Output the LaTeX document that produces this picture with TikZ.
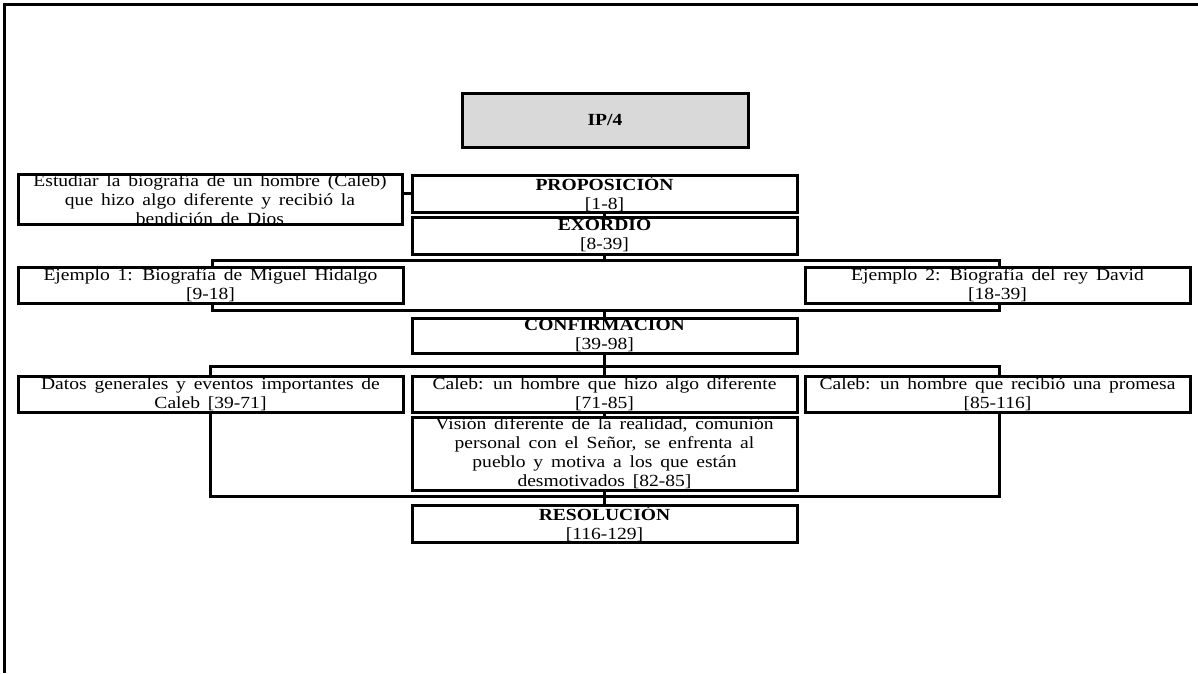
\documentclass[tikz,border=0pt]{standalone}
\usepackage{fontspec}
\setmainfont{Liberation Serif}[FakeStretch=1.15, WordSpace=1.6]
\usetikzlibrary{backgrounds}
\definecolor{boxgrey}{RGB}{217,217,217}
\tikzset{
  box/.style={draw=black, line width=3pt, fill=white, rectangle, inner sep=0pt,
    align=center, font=\fontsize{17}{19}\selectfont},
  conn/.style={draw=black, line width=3pt},
}
\newcommand{\bx}[6]{% name, x1, y1, x2, y2, text
  \node[box, minimum width={#4-#2}, minimum height={#5-#3}] (#1) at ({(#2+#4)/2},{(#3+#5)/2}) {#6};}
\begin{document}
\begin{tikzpicture}[x=1pt,y=-1pt]
\useasboundingbox (0,0) rectangle (1198,673);
\draw[line width=3pt] (4,673) -- (4,4) -- (1198,4);
\node[box, fill=boxgrey, minimum width=286, minimum height=54] (ip) at (605,120) {\textbf{IP/4}};
\bx{side}{18}{177}{402}{222}{Estudiar la biografía de un hombre (Caleb)\\ que hizo algo diferente y recibió la\\ bendición de Dios}
\bx{prop}{412}{175}{797}{212}{\textbf{PROPOSICIÓN}\\{}[1-8]}
\bx{exo}{412}{217}{797}{254}{\textbf{EXORDIO}\\{}[8-39]}
\bx{ejA}{18}{267}{403}{303}{Ejemplo 1: Biografía de Miguel Hidalgo\\{}[9-18]}
\bx{ejB}{805}{267}{1190}{303}{Ejemplo 2: Biografía del rey David\\{}[18-39]}
\bx{conf}{412}{318}{797}{353}{\textbf{CONFIRMACION}\\{}[39-98]}
\bx{datos}{18}{376}{403}{412}{Datos generales y eventos importantes de\\ Caleb [39-71]}
\bx{mid}{412}{376}{797}{412}{Caleb: un hombre que hizo algo diferente\\{}[71-85]}
\bx{rgt}{805}{376}{1190}{412}{Caleb: un hombre que recibió una promesa\\{}[85-116]}
\bx{vis}{412}{417}{797}{490}{Visión diferente de la realidad, comunión\\ personal con el Señor, se enfrenta al\\ pueblo y motiva a los que están\\ desmotivados [82-85]}
\bx{res}{412}{505}{797}{542}{\textbf{RESOLUCIÓN}\\{}[116-129]}
\coordinate (b1tl) at (212,260);
\coordinate (b1br) at (999,310);
\coordinate (b2tl) at (210,366);
\coordinate (b2br) at (999,496);
\begin{scope}[on background layer]
\draw[conn] (prop.west) -- (prop.west -| side.east);
\draw[conn] (prop.south) -- (exo.north);
\draw[conn] (exo.south) -- (exo.south |- b1tl);
\draw[conn] (b1tl) rectangle (b1br);
\draw[conn] (conf.north) -- (conf.north |- b1br);
\draw[conn] (b2tl) rectangle (b2br);
\draw[conn] (conf.south) -- (res.north);
\end{scope}
\end{tikzpicture}
\end{document}
